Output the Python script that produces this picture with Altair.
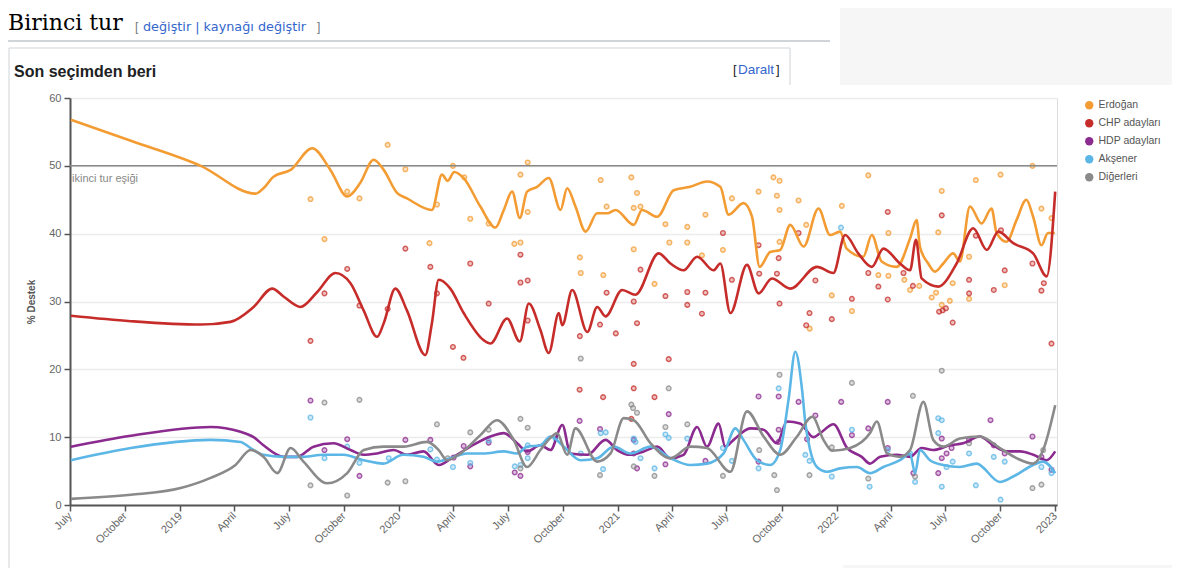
import altair as alt
import pandas as pd
from datetime import datetime, timedelta

SERIES = ["Erdoğan", "CHP adayları", "HDP adayları", "Akşener", "Diğerleri"]
COLORS = ["#f39c33", "#c62d2a", "#8b2a8f", "#5cb6e6", "#8a8a8a"]

# smoothed trend lines: (decimal year, % support)
TREND_ERDOGAN = [(2018.500, 56.8), (2018.774, 53.7), (2019.094, 50.0), (2019.345, 45.9), (2019.381, 46.7),
    (2019.427, 48.4), (2019.505, 49.4), (2019.604, 52.6), (2019.687, 49.4), (2019.764, 45.5), (2019.824, 47.5),
    (2019.885, 50.9), (2019.931, 49.4), (2019.992, 46.0), (2020.037, 45.2), (2020.151, 43.5), (2020.197, 48.7),
    (2020.223, 47.8), (2020.253, 49.1), (2020.296, 48.2), (2020.372, 44.0), (2020.441, 40.9), (2020.479, 43.5),
    (2020.517, 46.2), (2020.552, 42.3), (2020.585, 46.2), (2020.631, 46.9), (2020.684, 48.2), (2020.738, 43.5),
    (2020.768, 46.7), (2020.806, 44.0), (2020.852, 40.3), (2020.905, 43.0), (2020.951, 43.0), (2020.989, 43.5),
    (2021.072, 41.3), (2021.110, 43.5), (2021.179, 42.5), (2021.255, 46.4), (2021.331, 46.9), (2021.407, 47.7),
    (2021.468, 46.9), (2021.506, 42.8), (2021.574, 44.5), (2021.613, 42.5), (2021.648, 35.1), (2021.696, 37.3),
    (2021.742, 37.6), (2021.788, 41.3), (2021.849, 38.1), (2021.917, 43.7), (2021.970, 39.8), (2022.016, 40.3),
    (2022.046, 37.8), (2022.122, 36.6), (2022.161, 39.8), (2022.206, 35.9), (2022.275, 35.1), (2022.336, 39.3),
    (2022.366, 42.0), (2022.381, 38.1), (2022.419, 35.6), (2022.450, 34.4), (2022.488, 35.6), (2022.533, 37.1),
    (2022.564, 35.9), (2022.610, 44.0), (2022.663, 41.5), (2022.709, 43.7), (2022.732, 40.1), (2022.777, 38.8),
    (2022.823, 42.0), (2022.868, 45.0), (2022.899, 42.5), (2022.937, 38.3), (2022.967, 40.1), (2022.998, 40.1)]

TREND_CHP = [(2018.500, 27.9), (2018.774, 27.1), (2019.094, 26.6), (2019.230, 27.0), (2019.336, 29.2),
    (2019.421, 31.9), (2019.474, 30.7), (2019.550, 29.2), (2019.627, 31.4), (2019.710, 34.2), (2019.779, 32.7),
    (2019.839, 28.7), (2019.901, 24.8), (2019.931, 26.8), (2019.984, 31.9), (2020.037, 28.7), (2020.121, 22.1),
    (2020.151, 26.8), (2020.182, 33.2), (2020.235, 31.9), (2020.296, 28.3), (2020.387, 24.3), (2020.418, 23.8),
    (2020.494, 27.5), (2020.552, 24.1), (2020.593, 29.7), (2020.646, 25.8), (2020.684, 22.4), (2020.730, 28.3),
    (2020.746, 26.5), (2020.791, 31.7), (2020.860, 25.5), (2020.905, 29.2), (2020.943, 27.8), (2021.019, 31.7),
    (2021.080, 31.0), (2021.186, 37.1), (2021.240, 35.6), (2021.300, 34.6), (2021.362, 36.6), (2021.437, 34.6),
    (2021.468, 35.6), (2021.514, 28.3), (2021.590, 35.4), (2021.643, 31.2), (2021.704, 33.4), (2021.788, 31.9),
    (2021.910, 35.1), (2021.985, 34.2), (2022.039, 39.8), (2022.099, 37.1), (2022.161, 35.1), (2022.214, 37.8),
    (2022.290, 35.6), (2022.336, 34.6), (2022.363, 39.1), (2022.389, 33.4), (2022.465, 32.2), (2022.549, 35.6),
    (2022.625, 40.8), (2022.687, 37.6), (2022.740, 40.3), (2022.808, 38.6), (2022.899, 37.1), (2022.961, 33.7),
    (2023.000, 46.2)]

TREND_HDP = [(2018.500, 8.6), (2018.774, 10.2), (2019.139, 11.5), (2019.276, 10.8), (2019.336, 10.0),
    (2019.381, 8.8), (2019.473, 7.1), (2019.535, 7.1), (2019.610, 8.6), (2019.701, 9.1), (2019.779, 8.1),
    (2019.838, 7.4), (2019.901, 7.6), (2019.977, 8.1), (2020.037, 7.4), (2020.113, 7.9), (2020.182, 5.9),
    (2020.250, 7.1), (2020.326, 8.6), (2020.418, 10.1), (2020.479, 10.6), (2020.540, 9.1), (2020.585, 7.9),
    (2020.646, 8.8), (2020.692, 8.1), (2020.746, 11.8), (2020.783, 7.6), (2020.860, 7.4), (2020.943, 9.6),
    (2020.996, 8.1), (2021.057, 7.4), (2021.118, 7.9), (2021.179, 8.6), (2021.240, 6.9), (2021.300, 7.4),
    (2021.362, 11.5), (2021.407, 8.6), (2021.460, 12.0), (2021.491, 8.6), (2021.529, 9.6), (2021.605, 11.3),
    (2021.666, 11.1), (2021.727, 9.1), (2021.773, 12.3), (2021.833, 12.0), (2021.894, 10.0), (2021.925, 10.6),
    (2021.986, 11.9), (2022.046, 8.5), (2022.115, 7.1), (2022.153, 6.1), (2022.199, 7.1), (2022.275, 7.4),
    (2022.336, 7.1), (2022.389, 8.4), (2022.442, 8.1), (2022.518, 8.8), (2022.579, 9.1), (2022.655, 10.1),
    (2022.716, 8.8), (2022.777, 7.9), (2022.840, 7.9), (2022.900, 7.4), (2022.961, 6.6), (2023.000, 7.9)]

TREND_AKSENER = [(2018.500, 6.6), (2018.774, 8.4), (2019.139, 9.6), (2019.276, 9.3), (2019.322, 8.4),
    (2019.381, 7.4), (2019.473, 7.1), (2019.564, 7.1), (2019.655, 7.4), (2019.747, 7.4), (2019.838, 6.6),
    (2019.929, 6.1), (2020.020, 7.4), (2020.112, 7.1), (2020.175, 6.4), (2020.235, 6.9), (2020.311, 7.6),
    (2020.387, 7.6), (2020.479, 7.9), (2020.540, 7.6), (2020.585, 8.6), (2020.646, 8.8), (2020.692, 10.1),
    (2020.753, 8.6), (2020.829, 6.6), (2020.905, 6.9), (2020.981, 8.6), (2021.057, 7.6), (2021.149, 8.6),
    (2021.240, 6.9), (2021.331, 5.9), (2021.407, 6.1), (2021.483, 7.6), (2021.537, 11.3), (2021.574, 9.6),
    (2021.636, 6.6), (2021.696, 5.9), (2021.742, 8.1), (2021.780, 15.5), (2021.811, 22.6), (2021.842, 17.0),
    (2021.857, 12.1), (2021.879, 8.1), (2021.910, 5.6), (2021.956, 4.9), (2022.016, 5.4), (2022.093, 5.6),
    (2022.153, 4.7), (2022.214, 5.6), (2022.290, 6.6), (2022.336, 7.6), (2022.359, 4.7), (2022.381, 8.1),
    (2022.427, 6.6), (2022.488, 5.9), (2022.564, 5.6), (2022.640, 6.1), (2022.747, 3.4), (2022.808, 4.2),
    (2022.899, 5.9), (2022.945, 6.4), (2023.000, 4.7)]

TREND_DIGER = [(2018.500, 0.9), (2018.774, 1.5), (2019.002, 2.5), (2019.139, 4.0), (2019.253, 5.9),
    (2019.322, 8.1), (2019.381, 7.1), (2019.444, 4.7), (2019.505, 8.4), (2019.564, 6.4), (2019.672, 3.2),
    (2019.764, 4.7), (2019.840, 8.1), (2019.931, 8.6), (2020.022, 8.6), (2020.129, 9.3), (2020.182, 8.1),
    (2020.220, 6.6), (2020.281, 7.6), (2020.372, 10.3), (2020.448, 12.5), (2020.524, 9.6), (2020.585, 5.6),
    (2020.646, 8.1), (2020.692, 9.9), (2020.722, 10.6), (2020.768, 7.4), (2020.806, 11.3), (2020.905, 6.4),
    (2020.966, 7.6), (2021.026, 12.8), (2021.072, 12.5), (2021.149, 9.1), (2021.240, 6.9), (2021.331, 8.6),
    (2021.407, 8.4), (2021.514, 4.9), (2021.590, 13.8), (2021.666, 10.1), (2021.742, 7.4), (2021.819, 10.1),
    (2021.889, 13.0), (2021.940, 9.6), (2021.979, 8.0), (2022.062, 8.4), (2022.153, 10.6), (2022.184, 12.3),
    (2022.230, 7.6), (2022.290, 7.1), (2022.336, 8.1), (2022.397, 15.2), (2022.442, 9.6), (2022.488, 8.6),
    (2022.564, 9.8), (2022.655, 10.1), (2022.747, 8.4), (2022.823, 6.9), (2022.899, 6.1), (2022.945, 8.1),
    (2023.000, 14.7)]

# individual polls: (decimal year, % support)
POLLS_ERDOGAN = [(2019.596, 45.1), (2019.660, 39.2), (2019.764, 46.2), (2019.820, 45.2), (2019.949, 53.1),
    (2020.030, 49.5), (2020.140, 38.6), (2020.174, 44.3), (2020.247, 50.0), (2020.299, 48.3), (2020.326, 42.2),
    (2020.410, 41.5), (2020.527, 38.5), (2020.555, 38.7), (2020.555, 48.7), (2020.588, 50.5), (2020.588, 43.2),
    (2020.826, 36.5), (2020.830, 34.2), (2020.921, 47.9), (2020.933, 33.9), (2020.948, 44.0), (2021.061, 48.3),
    (2021.072, 37.7), (2021.072, 43.8), (2021.087, 46.0), (2021.103, 44.0), (2021.167, 32.6), (2021.217, 41.4),
    (2021.235, 38.7), (2021.317, 41.0), (2021.317, 38.7), (2021.384, 36.8), (2021.400, 42.8), (2021.480, 37.6),
    (2021.521, 45.2), (2021.643, 46.2), (2021.711, 48.3), (2021.739, 47.8), (2021.727, 45.6), (2021.739, 43.5),
    (2021.739, 38.8), (2021.826, 44.9), (2021.861, 41.3), (2021.877, 26.0), (2021.978, 30.9), (2022.024, 44.1),
    (2022.070, 28.6), (2022.145, 48.6), (2022.191, 33.9), (2022.237, 40.1), (2022.237, 33.8), (2022.310, 33.2),
    (2022.336, 31.7), (2022.378, 32.3), (2022.435, 30.6), (2022.455, 31.3), (2022.465, 40.2), (2022.481, 46.3),
    (2022.481, 29.5), (2022.518, 30.1), (2022.531, 32.7), (2022.606, 36.6), (2022.606, 30.4), (2022.637, 47.9),
    (2022.750, 48.7), (2022.769, 32.4), (2022.896, 50.0), (2022.937, 43.7), (2022.983, 42.3)]

POLLS_CHP = [(2019.596, 24.2), (2019.660, 31.2), (2019.764, 34.8), (2019.820, 29.4), (2019.949, 28.9),
    (2020.030, 37.8), (2020.144, 35.1), (2020.174, 31.2), (2020.247, 23.3), (2020.295, 21.7), (2020.326, 35.6),
    (2020.410, 29.7), (2020.555, 36.9), (2020.555, 32.8), (2020.588, 33.1), (2020.588, 27.2), (2020.826, 24.9),
    (2020.825, 17.0), (2020.918, 26.6), (2020.932, 15.9), (2020.948, 31.3), (2020.990, 25.3), (2021.061, 12.7),
    (2021.072, 30.0), (2021.072, 20.8), (2021.072, 17.2), (2021.087, 26.8), (2021.103, 34.7), (2021.167, 15.9),
    (2021.217, 30.8), (2021.232, 21.5), (2021.317, 31.4), (2021.317, 29.5), (2021.384, 28.2), (2021.400, 31.3),
    (2021.480, 40.1), (2021.521, 33.2), (2021.643, 38.3), (2021.646, 34.1), (2021.727, 34.1), (2021.735, 36.4),
    (2021.739, 29.7), (2021.826, 40.1), (2021.861, 26.5), (2021.876, 28.3), (2021.903, 33.1), (2021.978, 27.4),
    (2022.070, 30.4), (2022.145, 34.2), (2022.191, 32.2), (2022.234, 43.2), (2022.234, 30.3), (2022.306, 34.2),
    (2022.349, 32.3), (2022.469, 28.5), (2022.481, 42.7), (2022.485, 28.7), (2022.500, 29.0), (2022.531, 26.9),
    (2022.606, 33.2), (2022.606, 31.2), (2022.637, 39.7), (2022.719, 31.7), (2022.752, 40.5), (2022.769, 34.6),
    (2022.896, 35.6), (2022.937, 31.6), (2022.948, 32.7), (2022.983, 23.8)]

POLLS_HDP = [(2019.596, 15.4), (2019.660, 8.1), (2019.764, 9.7), (2019.820, 4.3), (2020.030, 9.6),
    (2020.144, 9.6), (2020.250, 7.0), (2020.296, 8.7), (2020.326, 5.7), (2020.410, 9.2), (2020.529, 4.8),
    (2020.555, 4.3), (2020.588, 7.8), (2020.825, 12.4), (2020.918, 11.2), (2021.072, 9.6), (2021.072, 7.6),
    (2021.087, 5.4), (2021.217, 6.0), (2021.232, 13.4), (2021.400, 6.5), (2021.643, 16.0), (2021.643, 6.4),
    (2021.735, 16.0), (2021.735, 11.1), (2021.735, 9.3), (2021.826, 15.2), (2021.865, 9.7), (2021.903, 13.2),
    (2022.021, 15.2), (2022.070, 10.3), (2022.145, 11.3), (2022.234, 15.2), (2022.234, 8.4), (2022.351, 4.7),
    (2022.465, 4.7), (2022.481, 6.9), (2022.481, 9.8), (2022.503, 7.6), (2022.526, 8.4), (2022.606, 9.6),
    (2022.704, 12.5), (2022.719, 8.8), (2022.769, 7.6), (2022.896, 10.1), (2022.937, 7.1), (2022.983, 5.2)]

POLLS_AKSENER = [(2019.596, 12.9), (2019.660, 6.9), (2019.764, 8.6), (2019.820, 6.2), (2019.954, 6.9),
    (2020.144, 8.2), (2020.174, 6.7), (2020.247, 5.6), (2020.326, 6.2), (2020.410, 9.5), (2020.529, 5.7),
    (2020.555, 5.9), (2020.588, 6.9), (2020.588, 8.8), (2020.715, 9.8), (2020.830, 7.6), (2020.921, 10.6),
    (2020.944, 10.7), (2020.932, 5.3), (2021.072, 9.8), (2021.080, 9.3), (2021.103, 6.9), (2021.167, 5.4),
    (2021.217, 10.4), (2021.232, 9.9), (2021.317, 9.8), (2021.480, 8.4), (2021.521, 6.5), (2021.643, 5.4),
    (2021.735, 17.2), (2021.857, 7.4), (2021.876, 6.5), (2021.978, 4.2), (2022.020, 40.9), (2022.070, 11.1),
    (2022.151, 2.7), (2022.234, 8.1), (2022.336, 7.6), (2022.359, 3.4), (2022.465, 12.8), (2022.481, 12.5),
    (2022.465, 10.6), (2022.503, 5.6), (2022.531, 6.4), (2022.481, 2.7), (2022.606, 7.6), (2022.637, 2.9),
    (2022.719, 7.1), (2022.750, 0.8), (2022.769, 6.4), (2022.937, 5.6), (2022.983, 4.7)]

POLLS_DIGER = [(2019.596, 2.9), (2019.660, 15.1), (2019.764, 1.4), (2019.820, 15.5), (2019.949, 3.3),
    (2020.030, 3.5), (2020.174, 11.9), (2020.223, 6.9), (2020.326, 10.7), (2020.410, 11.1), (2020.555, 12.7),
    (2020.588, 11.4), (2020.555, 5.4), (2020.830, 21.6), (2020.918, 4.4), (2021.061, 14.8), (2021.069, 14.3),
    (2021.087, 13.6), (2021.072, 5.7), (2021.167, 4.3), (2021.217, 11.5), (2021.232, 17.2), (2021.317, 11.9),
    (2021.480, 4.3), (2021.646, 8.1), (2021.715, 4.4), (2021.727, 2.2), (2021.739, 19.2), (2021.876, 4.4),
    (2021.978, 8.5), (2022.070, 18.0), (2022.145, 3.9), (2022.349, 16.1), (2022.359, 4.2), (2022.481, 19.8),
    (2022.606, 9.1), (2022.896, 2.5), (2022.937, 3.0), (2022.945, 8.1)]

TRENDS = [TREND_ERDOGAN, TREND_CHP, TREND_HDP, TREND_AKSENER, TREND_DIGER]
POLLS = [POLLS_ERDOGAN, POLLS_CHP, POLLS_HDP, POLLS_AKSENER, POLLS_DIGER]


def to_date(t):
    year = int(t)
    start = datetime(year, 1, 1)
    days = (datetime(year + 1, 1, 1) - start).days
    return (start + timedelta(days=(t - year) * days)).strftime("%Y-%m-%dT%H:%M:%S")


def frame(groups):
    rows = []
    for name, pts in zip(SERIES, groups):
        for i, (t, v) in enumerate(pts):
            rows.append({"tarih": to_date(t), "destek": v, "seri": name, "i": i})
    return pd.DataFrame(rows)


trend_df = frame(TRENDS)
poll_df = frame(POLLS)

W, H = 987, 407
cscale = alt.Scale(domain=SERIES, range=COLORS)
xscale = alt.Scale(domain=[alt.DateTime(year=2018, month=7, date=1),
                           alt.DateTime(year=2023, month=1, date=4)])
yscale = alt.Scale(domain=[0, 60], nice=False)

x_enc = alt.X("tarih:T", scale=xscale, title=None,
              axis=alt.Axis(tickCount=alt.TimeIntervalStep(interval="month", step=3),
                            grid=False, labelAngle=-45, labelAlign="right", labelBaseline="middle",
                            labelFlush=False, labelOverlap=False, labelFontSize=11,
                            labelColor="#666666", labelPadding=3, domainColor="#555555",
                            domainWidth=2, tickColor="#555555", tickWidth=1.5, tickSize=6))
y_enc = alt.Y("destek:Q", scale=yscale,
              axis=alt.Axis(values=list(range(0, 61, 5)), grid=True, gridColor="#ececec",
                            gridWidth=1.5, domainColor="#555555", domainWidth=2,
                            tickColor="#555555", tickWidth=1.5, tickSize=6, labelFontSize=11,
                            labelColor="#666666", labelPadding=3, title="% Destek",
                            titleFontSize=10, titleFontWeight="bold", titleColor="#555555",
                            titlePadding=12))

one = alt.Data(values=[{"k": 0}])


def txt(s, x, y, size, color, font="Liberation Sans", weight="normal", align="left"):
    return alt.Chart(one).mark_text(text=s, font=font, fontSize=size, color=color,
                                    fontWeight=weight, align=align, baseline="alphabetic"
                                    ).encode(x=alt.value(x), y=alt.value(y))


def hline(x1, x2, y, color, w=1):
    return alt.Chart(one).mark_rule(color=color, strokeWidth=w).encode(
        x=alt.value(x1), x2=alt.value(x2), y=alt.value(y))


def vline(x, y1, y2, color, w=1):
    return alt.Chart(one).mark_rule(color=color, strokeWidth=w).encode(
        x=alt.value(x), y=alt.value(y1), y2=alt.value(y2))


gray_top = alt.Chart(one).mark_rect(color="#f6f6f6").encode(
    x=alt.value(770), x2=alt.value(1110), y=alt.value(-98), y2=alt.value(-13))
gray_bot = alt.Chart(one).mark_rect(color="#f6f6f6").encode(
    x=alt.value(773), x2=alt.value(1110), y=alt.value(467), y2=alt.value(480))

deco = [
    gray_top, gray_bot,
    txt("Birinci tur", -62, -68, 22, "#000000", font="DejaVu Serif"),
    txt("[", 65, -67, 12, "#72777d"),
    txt("değiştir | kaynağı değiştir", 73, -67, 12.8, "#3366cc", font="DejaVu Sans"),
    txt("]", 247, -67, 12, "#72777d"),
    hline(-62, 760, -57, "#a2a9b1"),
    hline(-61, 720, -50, "#d0d3d7"),
    vline(-61, -50, 474, "#d0d3d7"),
    vline(720, -50, -13, "#d0d3d7"),
    hline(-61, 720, 473, "#d0d3d7", 1.5),
    txt("Son seçimden beri", -56, -21, 16, "#202122", weight="bold"),
    txt("[", 663, -24, 13, "#202122"),
    txt("Daralt", 668, -24, 13.5, "#3366cc"),
    txt("]", 706, -24, 13, "#202122"),
]

polls = alt.Chart(poll_df).mark_circle(size=22, fillOpacity=0.3, strokeWidth=1.4, strokeOpacity=0.75).encode(
    x=x_enc, y=y_enc,
    color=alt.Color("seri:N", scale=cscale,
                    legend=alt.Legend(title=None, orient="none", legendX=1014, legendY=2,
                                      symbolType="circle", symbolSize=70, symbolOpacity=1,
                                      symbolStrokeWidth=0, labelFontSize=10.5, labelColor="#555555",
                                      labelFont="Liberation Sans", rowPadding=7)),
    stroke=alt.Stroke("seri:N", scale=cscale, legend=None),
)

lines = alt.Chart(trend_df).mark_line(interpolate="monotone", strokeWidth=2.6).encode(
    x=x_enc, y=y_enc,
    color=alt.Color("seri:N", scale=cscale, legend=None),
    order="i:Q",
)

threshold = alt.Chart(one).mark_rule(color="#888888", strokeWidth=1.5).encode(y=alt.datum(50))
threshold_lbl = alt.Chart(one).mark_text(text="ikinci tur eşiği", align="left", baseline="middle",
                                         fontSize=11, color="#888888", dx=2, dy=13).encode(
    x=alt.datum(alt.DateTime(year=2018, month=7, date=1)), y=alt.datum(50))

chart = alt.layer(*deco, polls, threshold, lines, threshold_lbl).properties(
    width=W, height=H,
    padding={"left": 62, "top": 90, "right": 115, "bottom": 63},
    autosize=alt.AutoSizeParams(type="none"),
    background="white",
).configure_view(stroke=None).configure(font="Liberation Sans")

chart.save("out.html", embed_options={"renderer": "svg", "actions": False})
